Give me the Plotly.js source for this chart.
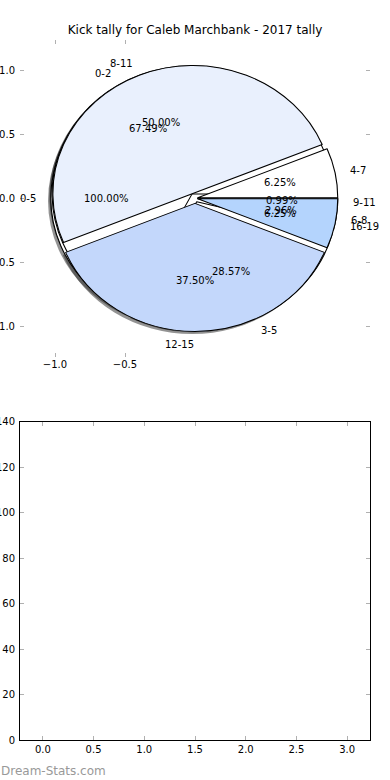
<!DOCTYPE html>
<html>
<head>
<meta charset="utf-8">
<script src="https://cdn.plot.ly/plotly-3.0.1.min.js"></script>
<style>
  html, body { margin: 0; padding: 0; background: #fff; }
  #chart { width: 390px; height: 780px; }
</style>
</head>
<body>
<div id="chart"></div>
<script>
// ---------------- data ----------------
const titleText = 'Kick tally for Caleb Marchbank - 2017 tally';

// pie 1 (drawn first, underneath)
const labelsA = ['0-5'];
const valuesA = [100.00];

// pie 2
const labelsC = ['0-2', '3-5', '6-8', '9-11'];
const valuesC = [67.49, 28.57, 2.96, 0.99];

// pie 3 (drawn on top)
const labelsD = ['4-7', '8-11', '12-15', '16-19'];
const valuesD = [6.25, 50.00, 37.50, 6.25];

// tick labels
const pieYTicks = [-1.0, -0.5, 0.0, 0.5, 1.0];
const pieXTicks = [-1.0, -0.5];
const barXTicks = [0.0, 0.5, 1.0, 1.5, 2.0, 2.5, 3.0];
const barYTicks = [0, 20, 40, 60, 80, 100, 120, 140];

// ---------------- styles ----------------
const explodeA = [0.03];
const explodeC = [0.04, 0.03, 0.02, 0.02];
const explodeD = [0.02, 0.04, 0.04, 0.02];
const colorsA = ['#ffffff'];
const colorsC = ['#ffffff', '#ffffff', '#ffffff', '#ffffff'];
const colorsD = ['#ffffff', '#e9f0fd', '#c3d7fb', '#b4d4fd'];

const W = 390, H = 780;
const FONT = 'DejaVu Sans, Verdana, sans-serif';
// top (pie) axes box in px
const pL = 20, pR = 370, pT = 39.5, pB = 357;
const pXr = [-1.25, 1.25], pYr = [-1.24, 1.24];
const pxPerX = (pR - pL) / (pXr[1] - pXr[0]);
const pxPerY = (pB - pT) / (pYr[1] - pYr[0]);
const cxPx = pL + (0 - pXr[0]) * pxPerX;
const cyPx = pT + (pYr[1] - 0) * pxPerY;
const R = pxPerY;                    // pie radius (vertical), stretched horizontally afterwards
const stretch = pxPerX / pxPerY;

// bottom axes box in px
const bL = 20, bR = 370, bT = 421.7, bB = 740;

function sum(a) { return a.reduce((s, v) => s + v, 0); }

function pieTrace(labels, values, explode, colors, shadow) {
  const total = sum(values);
  const maxPull = Math.max(...explode);
  const h = R * (1 + maxPull);
  const dx = shadow ? -0.02 * R : 0;
  const dy = shadow ? 0.02 * R : 0;
  const cx = cxPx + dx, cy = cyPx + dy;
  return {
    type: 'pie',
    labels: labels,
    values: values,
    sort: false,
    direction: 'counterclockwise',
    rotation: 90 - 360 * values[0] / total,
    pull: explode,
    textinfo: 'none',
    hoverinfo: 'skip',
    showlegend: false,
    marker: shadow
      ? { colors: values.map(() => 'rgba(40,40,40,0.5)'), line: { width: 0 } }
      : { colors: colors, line: { color: '#000000', width: 1 } },
    domain: {
      x: [(cx - h) / W, (cx + h) / W],
      y: [1 - (cy + h) / H, 1 - (cy - h) / H]
    }
  };
}

function pieAnnots(labels, values, explode) {
  const total = sum(values);
  const out = [];
  let t1 = 0;
  values.forEach((v, i) => {
    const t2 = t1 + 360 * v / total;
    const tm = Math.PI / 180 * (t1 + t2) / 2;
    const ox = explode[i] * Math.cos(tm), oy = explode[i] * Math.sin(tm);
    const xt = ox + 1.1 * Math.cos(tm), yt = oy + 1.1 * Math.sin(tm);
    out.push({
      xref: 'x', yref: 'y', x: xt, y: yt, text: labels[i], showarrow: false,
      xanchor: xt > 1e-9 ? 'left' : 'right', yanchor: 'middle',
      font: { family: FONT, size: 10, color: '#000' }, borderpad: 0
    });
    out.push({
      xref: 'x', yref: 'y', x: ox + 0.6 * Math.cos(tm), y: oy + 0.6 * Math.sin(tm),
      text: values[i].toFixed(2) + '%', showarrow: false,
      xanchor: 'center', yanchor: 'middle',
      font: { family: FONT, size: 10, color: '#000' }, borderpad: 0
    });
    t1 = t2;
  });
  return out;
}

const traces = [
  pieTrace(labelsA, valuesA, explodeA, colorsA, true),
  pieTrace(labelsC, valuesC, explodeC, colorsC, true),
  pieTrace(labelsD, valuesD, explodeD, colorsD, true),
  pieTrace(labelsA, valuesA, explodeA, colorsA, false),
  pieTrace(labelsC, valuesC, explodeC, colorsC, false),
  pieTrace(labelsD, valuesD, explodeD, colorsD, false),
  // empty bottom chart
  { type: 'bar', x: [], y: [], xaxis: 'x2', yaxis: 'y2', showlegend: false, hoverinfo: 'skip' }
];

const annotations = []
  .concat(pieAnnots(labelsA, valuesA, explodeA))
  .concat(pieAnnots(labelsC, valuesC, explodeC))
  .concat(pieAnnots(labelsD, valuesD, explodeD));

annotations.push({
  xref: 'paper', yref: 'paper', x: 0, y: 1 - 771 / H, xanchor: 'left', yanchor: 'middle',
  text: 'Dream-Stats.com', showarrow: false, borderpad: 0,
  font: { family: FONT, size: 12, color: '#999999' }
});

const tickFont = { family: FONT, size: 10, color: '#000' };
const layout = {
  width: W, height: H,
  margin: { l: 0, r: 0, t: 0, b: 0, pad: 0 },
  paper_bgcolor: '#ffffff', plot_bgcolor: 'rgba(0,0,0,0)',
  showlegend: false,
  title: {
    text: titleText, x: 0.5, xanchor: 'center', y: 1 - 30 / H, yanchor: 'middle',
    font: { family: FONT, size: 12, color: '#000' }
  },
  xaxis: {
    domain: [pL / W, pR / W], range: pXr, anchor: 'y',
    showgrid: false, zeroline: false, showline: false,
    ticks: 'inside', ticklen: 4, tickwidth: 1, tickcolor: '#b0b0b0', mirror: 'ticks',
    tickmode: 'array', tickvals: pieXTicks, tickformat: '.1f', tickfont: tickFont
  },
  yaxis: {
    domain: [1 - pB / H, 1 - pT / H], range: pYr, anchor: 'x',
    showgrid: false, zeroline: false, showline: false,
    ticks: 'inside', ticklen: 4, tickwidth: 1, tickcolor: '#b0b0b0', mirror: 'ticks',
    tickmode: 'array', tickvals: pieYTicks, tickformat: '.1f', tickfont: tickFont,
    ticklabelstandoff: 4
  },
  xaxis2: {
    domain: [bL / W, bR / W], range: [-0.225, 3.225], anchor: 'y2',
    showgrid: false, zeroline: false, showline: true, linecolor: '#000', linewidth: 1,
    ticks: 'inside', ticklen: 4, tickwidth: 1, tickcolor: '#b0b0b0', mirror: 'ticks',
    tickmode: 'array', tickvals: barXTicks, tickformat: '.1f', tickfont: tickFont
  },
  yaxis2: {
    domain: [1 - bB / H, 1 - bT / H], range: [0, 140], anchor: 'x2',
    showgrid: false, zeroline: false, showline: true, linecolor: '#000', linewidth: 1,
    ticks: 'inside', ticklen: 4, tickwidth: 1, tickcolor: '#b0b0b0', mirror: 'ticks',
    tickmode: 'array', tickvals: barYTicks, tickformat: 'd', tickfont: tickFont,
    ticklabelstandoff: 2
  },
  annotations: annotations
};

Plotly.newPlot('chart', traces, layout, { staticPlot: true, displayModeBar: false }).then(gd => {
  const pl = gd.querySelector('.pielayer');
  if (pl) {
    pl.setAttribute('transform',
      'translate(' + cxPx + ',0) scale(' + stretch + ',1) translate(' + (-cxPx) + ',0)');
  }
});
</script>
</body>
</html>
